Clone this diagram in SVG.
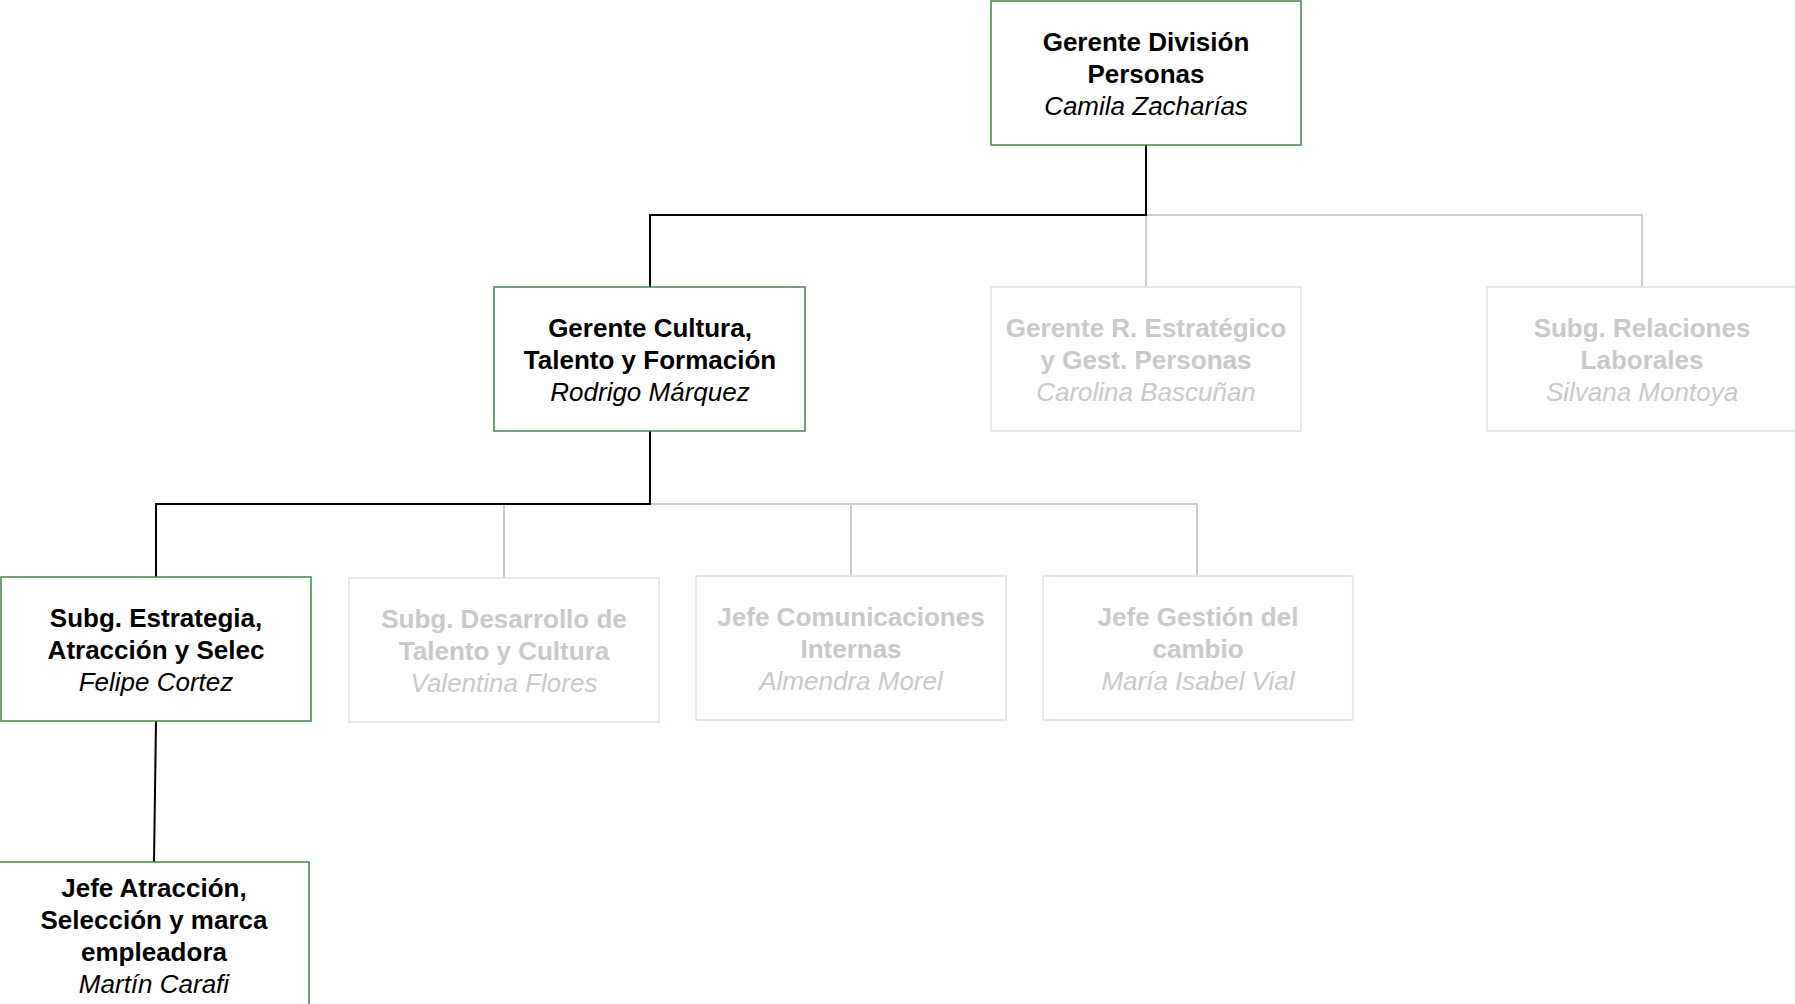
<svg xmlns="http://www.w3.org/2000/svg" width="1795" height="1004" viewBox="0 0 1795 1004">
<style>
.box{fill:#fff;stroke:#4a8052;stroke-width:1.5}
.fbox{fill:#fff;stroke:#dbe7dc;stroke-width:1.5}
text{font-family:"Liberation Sans",Arial,sans-serif;font-size:26px;text-anchor:middle}
.t{font-weight:bold;fill:#000}
.n{font-style:italic;fill:#000}
.ft{font-weight:bold;fill:#c9c9c9}
.fn{font-style:italic;fill:#c9c9c9}
.cb{fill:none;stroke:#000;stroke-width:2}
.cg{fill:none;stroke:#cccccc;stroke-width:2}
</style>
<rect width="1795" height="1004" fill="#fff"/>
<g id="connectors">
<path class="cg" d="M1146,215 H1642 V287 M1146,215 V287"/>
<path class="cg" d="M650,504 H1197 V576 M504,504 V578 M851,504 V576"/>
<path class="cb" d="M1146,145 V215 H650 V287"/>
<path class="cb" d="M650,431 V504 H156 V577"/>
<path class="cb" d="M156,721 L154,862"/>
</g>
<g id="n-gerente-division">
<rect class="box" x="991" y="1" width="310" height="144"/>
<text class="t" x="1146" y="51">Gerente División</text>
<text class="t" x="1146" y="83">Personas</text>
<text class="n" x="1146" y="115">Camila Zacharías</text>
</g>
<g id="n-gerente-cultura">
<rect class="box" x="494" y="287" width="311" height="144"/>
<text class="t" x="650" y="337">Gerente Cultura,</text>
<text class="t" x="650" y="369">Talento y Formación</text>
<text class="n" x="650" y="401">Rodrigo Márquez</text>
</g>
<g id="n-gerente-restrategico">
<rect class="fbox" x="991" y="287" width="310" height="144"/>
<text class="ft" x="1146" y="337">Gerente R. Estratégico</text>
<text class="ft" x="1146" y="369">y Gest. Personas</text>
<text class="fn" x="1146" y="401">Carolina Bascuñan</text>
</g>
<g id="n-subg-relaciones">
<rect class="fbox" x="1487" y="287" width="310" height="144"/>
<text class="ft" x="1642" y="337">Subg. Relaciones</text>
<text class="ft" x="1642" y="369">Laborales</text>
<text class="fn" x="1642" y="401">Silvana Montoya</text>
</g>
<g id="n-subg-estrategia">
<rect class="box" x="1" y="577" width="310" height="144"/>
<text class="t" x="156" y="627">Subg. Estrategia,</text>
<text class="t" x="156" y="659">Atracción y Selec</text>
<text class="n" x="156" y="691">Felipe Cortez</text>
</g>
<g id="n-subg-desarrollo">
<rect class="fbox" x="349" y="578" width="310" height="144"/>
<text class="ft" x="504" y="628">Subg. Desarrollo de</text>
<text class="ft" x="504" y="660">Talento y Cultura</text>
<text class="fn" x="504" y="692">Valentina Flores</text>
</g>
<g id="n-jefe-comunicaciones">
<rect class="fbox" x="696" y="576" width="310" height="144"/>
<text class="ft" x="851" y="626">Jefe Comunicaciones</text>
<text class="ft" x="851" y="658">Internas</text>
<text class="fn" x="851" y="690">Almendra Morel</text>
</g>
<g id="n-jefe-gestion">
<rect class="fbox" x="1043" y="576" width="310" height="144"/>
<text class="ft" x="1198" y="626">Jefe Gestión del</text>
<text class="ft" x="1198" y="658">cambio</text>
<text class="fn" x="1198" y="690">María Isabel Vial</text>
</g>
<g id="n-jefe-atraccion">
<rect class="box" x="-1" y="862" width="310" height="200"/>
<text class="t" x="154" y="897">Jefe Atracción,</text>
<text class="t" x="154" y="929">Selección y marca</text>
<text class="t" x="154" y="961">empleadora</text>
<text class="n" x="154" y="993">Martín Carafi</text>
</g>
</svg>
